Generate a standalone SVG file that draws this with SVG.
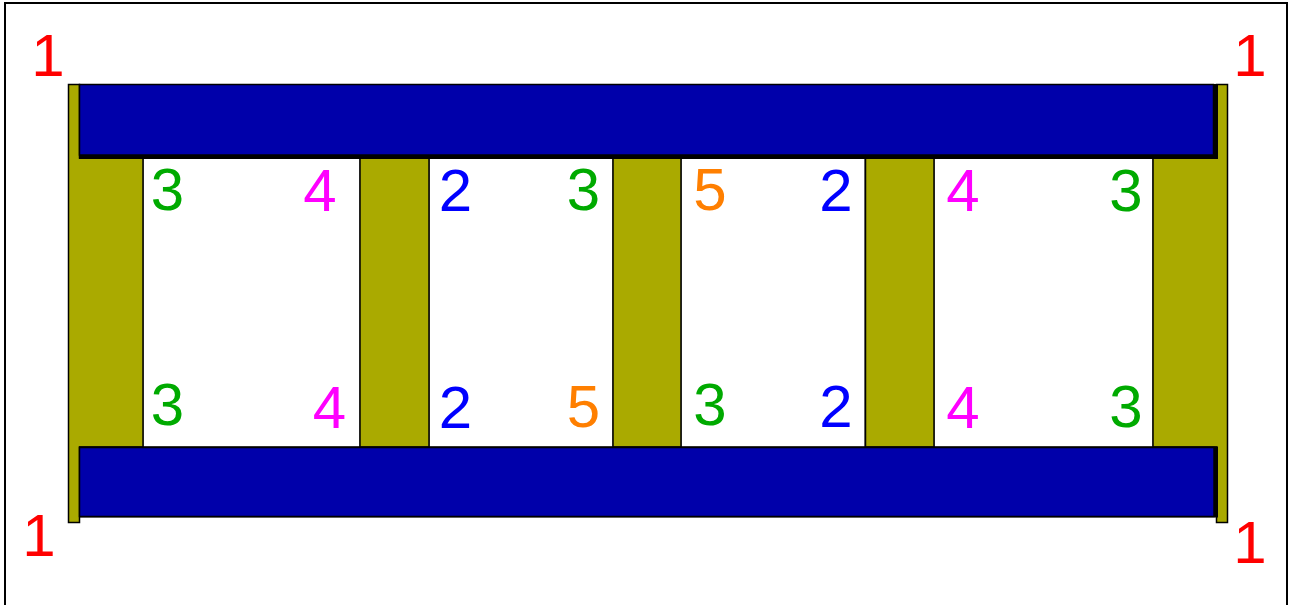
<svg xmlns="http://www.w3.org/2000/svg" width="1289" height="605" viewBox="0 0 1289 605">
<style>
.olive{fill:#AAAA00;stroke:#000;stroke-width:1.5}
.blue{fill:#0000AA;stroke:#000;stroke-width:1.5}
.shadow{fill:#000}
.cell{fill:#fff;stroke:#000;stroke-width:1}
text{font-family:"Liberation Sans",Arial,Helvetica,sans-serif;font-size:60px;text-anchor:middle}
.r{fill:#FF0000}.g{fill:#00AA00}.m{fill:#FF00FF}.b{fill:#0000FF}.o{fill:#FF7F00}
</style>
<rect x="0" y="0" width="1289" height="605" fill="#fff"/>
<rect id="frame" x="5" y="3" width="1282" height="620" fill="#fff" stroke="#000" stroke-width="2"/>
<g id="cells">
<rect class="cell" x="143" y="158" width="217" height="289"/>
<rect class="cell" x="429" y="158" width="184" height="289"/>
<rect class="cell" x="681" y="158" width="184" height="289"/>
<rect class="cell" x="934" y="158" width="219" height="289"/>
</g>
<g id="left-post"><path class="olive" d="M68.5,84.5 H79.5 V158 H143 V447 H79.5 V522.5 H68.5 Z"/></g>
<g id="right-post"><path class="olive" d="M1227.5,84.5 H1216.5 V158 H1153 V447 H1216.5 V522.5 H1227.5 Z"/></g>
<g id="post2"><rect class="olive" x="360" y="158" width="69" height="289"/></g>
<g id="post3"><rect class="olive" x="613" y="158" width="68" height="289"/></g>
<g id="post4"><rect class="olive" x="865.5" y="158" width="68.5" height="289"/></g>
<g id="top-beam">
<rect class="shadow" x="79" y="84" width="1139" height="75"/>
<rect class="blue" x="79.5" y="84.5" width="1134" height="70.5"/>
</g>
<g id="bottom-beam">
<rect class="shadow" x="79" y="446.5" width="1139" height="71"/>
<rect class="blue" x="79.5" y="447.5" width="1134.5" height="69"/>
</g>
<g id="labels">
<text class="r" x="48" y="76">1</text>
<text class="r" x="1250" y="76">1</text>
<text class="r" x="39" y="556">1</text>
<text class="r" x="1250" y="563">1</text>
<text class="g" x="167.5" y="210">3</text>
<text class="m" x="320" y="211">4</text>
<text class="b" x="455.5" y="211">2</text>
<text class="g" x="583.5" y="210">3</text>
<text class="o" x="710" y="210">5</text>
<text class="b" x="836" y="211">2</text>
<text class="m" x="963" y="211">4</text>
<text class="g" x="1126" y="211">3</text>
<text class="g" x="167.5" y="425">3</text>
<text class="m" x="329.5" y="428">4</text>
<text class="b" x="455.5" y="428">2</text>
<text class="o" x="583.5" y="427">5</text>
<text class="g" x="710" y="425">3</text>
<text class="b" x="836" y="427">2</text>
<text class="m" x="963" y="428">4</text>
<text class="g" x="1126" y="427">3</text>
</g>
</svg>
